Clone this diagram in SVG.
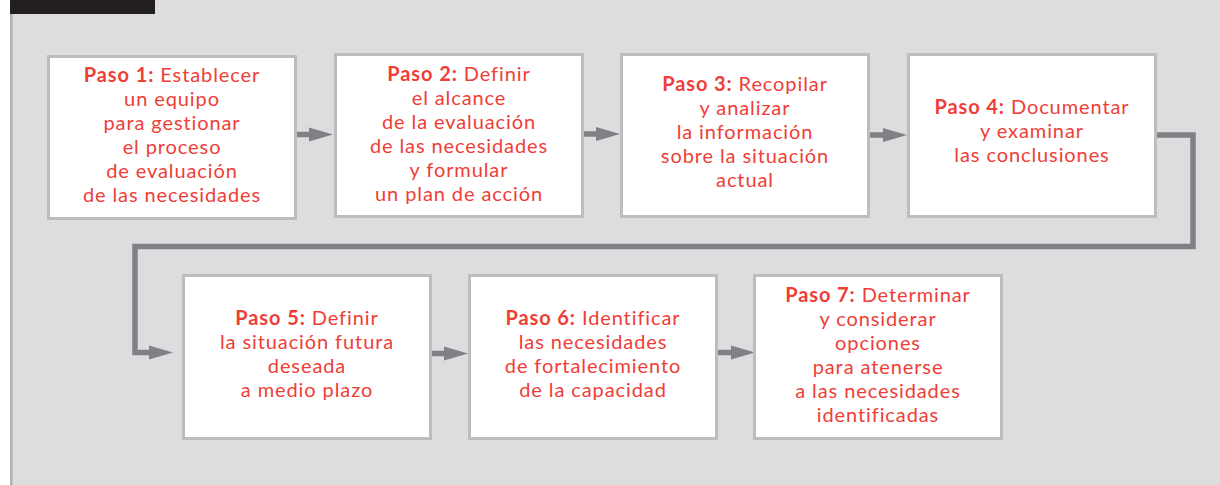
<svg xmlns="http://www.w3.org/2000/svg" width="1220" height="485" viewBox="0 0 1220 485">
<style>
.box{fill:#ffffff;stroke:#bcbdbf;stroke-width:3}
.t{font-family:Lato,"Noto Sans","Liberation Sans",sans-serif;font-size:20px;letter-spacing:0.9px;fill:#ee3e37;text-anchor:middle}
.b{font-weight:bold}
.c{fill:none;stroke:#808184;stroke-width:5.5;stroke-linejoin:miter}
</style>
<defs>
<marker id="ah" markerUnits="userSpaceOnUse" markerWidth="24" markerHeight="14" refX="4" refY="7" orient="auto" overflow="visible"><path d="M0,0 L24,7 L0,14 z" fill="#808184"/></marker>
</defs>
<rect x="0" y="0" width="1220" height="485" fill="#ffffff"/>
<rect x="10" y="0" width="1210" height="485" fill="#dcdddf"/>
<rect x="10" y="0" width="2.5" height="485" fill="#b1b2b4"/>
<rect x="10" y="0" width="145" height="14" fill="#231f20"/>
<g id="connectors">
<path class="c" d="M297,134.5 H313" marker-end="url(#ah)"/>
<path class="c" d="M583,134 H600" marker-end="url(#ah)"/>
<path class="c" d="M870,135 H887" marker-end="url(#ah)"/>
<path class="c" d="M1157,135 H1193 V246.5 H135 V352.5 H153" marker-end="url(#ah)"/>
<path class="c" d="M431,353.5 H448" marker-end="url(#ah)"/>
<path class="c" d="M718,352.5 H735" marker-end="url(#ah)"/>
</g>
<g id="step1">
<rect class="box" x="48.5" y="56.5" width="247" height="162"/>
<text class="t" x="172" y="82"><tspan class="b">Paso 1:</tspan> Establecer<tspan x="172" dy="24">un equipo</tspan><tspan x="172" dy="24">para gestionar</tspan><tspan x="172" dy="24">el proceso</tspan><tspan x="172" dy="24">de evaluación</tspan><tspan x="172" dy="24">de las necesidades</tspan></text>
</g>
<g id="step2">
<rect class="box" x="335.5" y="54.5" width="247" height="162"/>
<text class="t" x="459" y="81"><tspan class="b">Paso 2:</tspan> Definir<tspan x="459" dy="24">el alcance</tspan><tspan x="459" dy="24">de la evaluación</tspan><tspan x="459" dy="24">de las necesidades</tspan><tspan x="459" dy="24">y formular</tspan><tspan x="459" dy="24">un plan de acción</tspan></text>
</g>
<g id="step3">
<rect class="box" x="621.5" y="54.5" width="247" height="162"/>
<text class="t" x="745" y="91"><tspan class="b">Paso 3:</tspan> Recopilar<tspan x="745" dy="24">y analizar</tspan><tspan x="745" dy="24">la información</tspan><tspan x="745" dy="24">sobre la situación</tspan><tspan x="745" dy="24">actual</tspan></text>
</g>
<g id="step4">
<rect class="box" x="908.5" y="54.5" width="247" height="162"/>
<text class="t" x="1032" y="114"><tspan class="b">Paso 4:</tspan> Documentar<tspan x="1032" dy="24">y examinar</tspan><tspan x="1032" dy="24">las conclusiones</tspan></text>
</g>
<g id="step5">
<rect class="box" x="183.5" y="275.5" width="247" height="163"/>
<text class="t" x="307" y="325"><tspan class="b">Paso 5:</tspan> Definir<tspan x="307" dy="24">la situación futura</tspan><tspan x="307" dy="24">deseada</tspan><tspan x="307" dy="24">a medio plazo</tspan></text>
</g>
<g id="step6">
<rect class="box" x="469.5" y="275.5" width="247" height="163"/>
<text class="t" x="593" y="325"><tspan class="b">Paso 6:</tspan> Identificar<tspan x="593" dy="24">las necesidades</tspan><tspan x="593" dy="24">de fortalecimiento</tspan><tspan x="593" dy="24">de la capacidad</tspan></text>
</g>
<g id="step7">
<rect class="box" x="754.5" y="275.5" width="247" height="163"/>
<text class="t" x="878" y="302"><tspan class="b">Paso 7:</tspan> Determinar<tspan x="878" dy="24">y considerar</tspan><tspan x="878" dy="24">opciones</tspan><tspan x="878" dy="24">para atenerse</tspan><tspan x="878" dy="24">a las necesidades</tspan><tspan x="878" dy="24">identificadas</tspan></text>
</g>
</svg>
